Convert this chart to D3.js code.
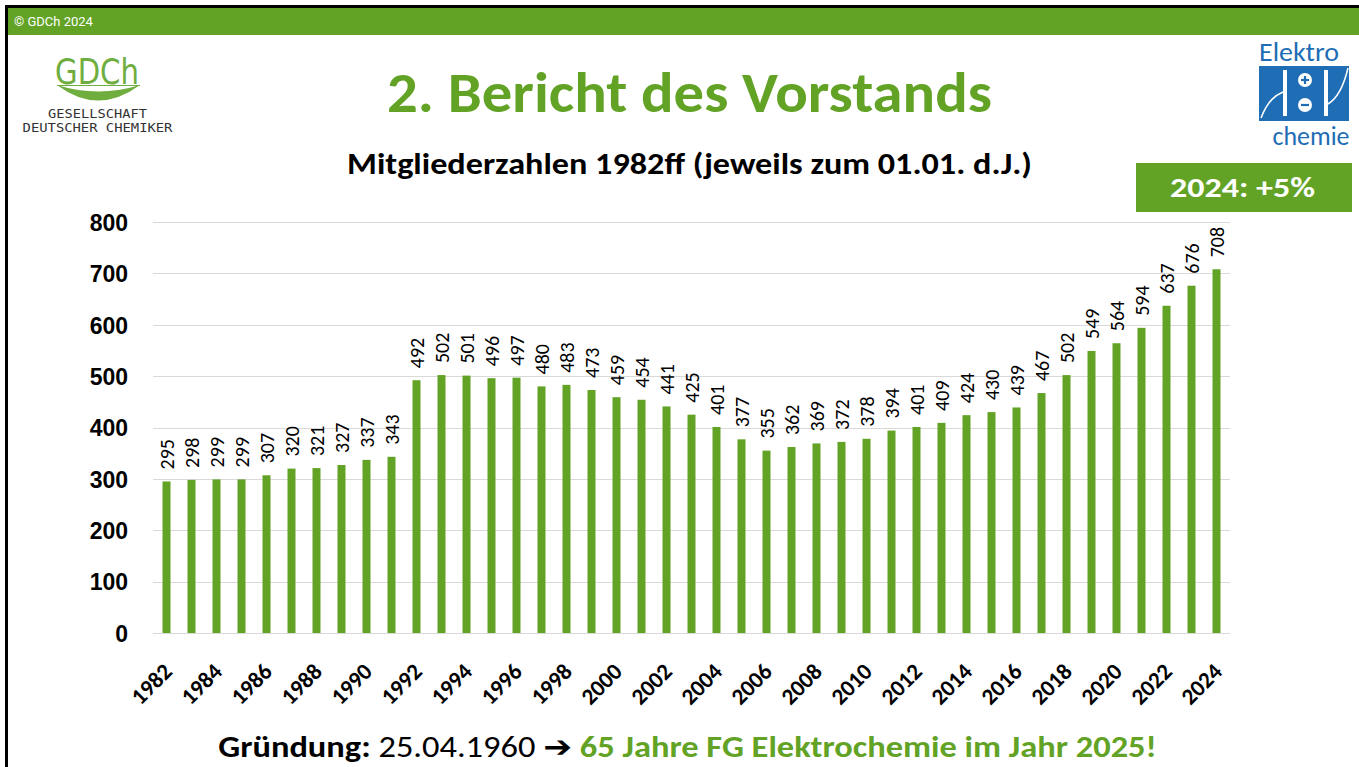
<!DOCTYPE html>
<html><head><meta charset="utf-8">
<script src="https://cdn.jsdelivr.net/npm/d3@7"></script>
<style>html,body{margin:0;padding:0;background:#fff;overflow:hidden}</style>
</head><body>
<svg id="c" width="1359" height="767"></svg>
<script>
// ---- data ----
const years = [1982,1983,1984,1985,1986,1987,1988,1989,1990,1991,1992,1993,1994,1995,1996,1997,1998,1999,2000,2001,2002,2003,2004,2005,2006,2007,2008,2009,2010,2011,2012,2013,2014,2015,2016,2017,2018,2019,2020,2021,2022,2023,2024];
const members = [295,298,299,299,307,320,321,327,337,343,492,502,501,496,497,480,483,473,459,454,441,425,401,377,355,362,369,372,378,394,401,409,424,430,439,467,502,549,564,594,637,676,708];
const yTickValues = [0,100,200,300,400,500,600,700,800];
const xTickYears = [1982,1984,1986,1988,1990,1992,1994,1996,1998,2000,2002,2004,2006,2008,2010,2012,2014,2016,2018,2020,2022,2024];
const titleText = "2. Bericht des Vorstands";
const subtitleText = "Mitgliederzahlen 1982ff (jeweils zum 01.01. d.J.)";
const badgeText = "2024: +5%";
const footerParts = [
  {t:"Gründung:", bold:true, green:false},
  {t:" 25.04.1960 ", bold:false, green:false},
  {t:"➔", bold:true, green:false, arrow:true},
  {t:" 65 Jahre FG Elektrochemie im Jahr 2025!", bold:true, green:true}
];

const GREEN = "#62a326";
const BLUE = "#1f6db4";
const CAL = "Carlito, Calibri, Lato, 'Open Sans', sans-serif";

const svg = d3.select("#c");

function fit(sel, cx, y, width) {
  const w = sel.node().getBBox().width;
  sel.attr("transform", `translate(${cx},${y}) scale(${width / w},1)`);
}

// ---- frame ----
svg.append("rect").attr("x",8).attr("y",8).attr("width",1351).attr("height",27).attr("fill",GREEN);
svg.append("path").attr("d","M6.5,767 V6.5 H1359").attr("fill","none").attr("stroke","#000").attr("stroke-width",3);
svg.append("text").attr("x",14).attr("y",26).attr("fill","#fff")
  .attr("font-family","Roboto, 'Liberation Sans', sans-serif").attr("font-size",13).text("© GDCh 2024");

// ---- GDCh logo ----
const logoG = "#6fae3e";
const gd = svg.append("text").attr("text-anchor","middle").attr("fill",logoG)
  .attr("font-family","'DejaVu Sans', sans-serif").attr("font-size",36).attr("font-weight","normal").text("GDCh");
fit(gd, 97, 84, 84);
svg.append("path").attr("d","M57,85 Q98,116 140,85 Q98,98 57,85 Z").attr("fill",logoG);
svg.append("line").attr("x1",57).attr("x2",140).attr("y1",85.5).attr("y2",85.5).attr("stroke",logoG).attr("stroke-width",1);
const l1 = svg.append("text").attr("text-anchor","middle").attr("fill","#333")
  .attr("font-family","'DejaVu Sans Mono', monospace").attr("font-size",12).text("GESELLSCHAFT");
fit(l1, 97.5, 118, 99);
const l2 = svg.append("text").attr("text-anchor","middle").attr("fill","#333")
  .attr("font-family","'DejaVu Sans Mono', monospace").attr("font-size",12).text("DEUTSCHER CHEMIKER");
fit(l2, 97.5, 132, 151);

// ---- Elektrochemie logo ----
const ek = svg.append("text").attr("text-anchor","middle").attr("fill",BLUE)
  .attr("font-family",CAL).attr("font-size",26).text("Elektro");
fit(ek, 1299, 61, 80);
svg.append("rect").attr("x",1259).attr("y",66).attr("width",90).attr("height",55).attr("fill",BLUE);
svg.append("rect").attr("x",1283).attr("y",70).attr("width",4).attr("height",46).attr("fill","#fff");
svg.append("rect").attr("x",1324).attr("y",70).attr("width",4).attr("height",46).attr("fill","#fff");
svg.append("path").attr("d","M1261,118 C1268,100 1276,95 1283,92").attr("fill","none").attr("stroke","#fff").attr("stroke-width",1.5);
svg.append("path").attr("d","M1328,104 C1338,98 1344,85 1348,68").attr("fill","none").attr("stroke","#fff").attr("stroke-width",1.5);
[[80,"+"],[105,"-"]].forEach(([cy,s]) => {
  svg.append("circle").attr("cx",1305).attr("cy",cy).attr("r",7).attr("fill","#fff");
  svg.append("line").attr("x1",1301).attr("x2",1309).attr("y1",cy).attr("y2",cy).attr("stroke",BLUE).attr("stroke-width",2.2);
  if (s === "+") svg.append("line").attr("x1",1305).attr("x2",1305).attr("y1",cy-4).attr("y2",cy+4).attr("stroke",BLUE).attr("stroke-width",2.2);
});
const ch = svg.append("text").attr("text-anchor","middle").attr("fill",BLUE)
  .attr("font-family",CAL).attr("font-size",26).text("chemie");
fit(ch, 1311, 145, 77);

// ---- titles ----
const title = svg.append("text").attr("text-anchor","middle").attr("fill",GREEN)
  .attr("font-family",CAL).attr("font-weight","bold").attr("font-size",57).text(titleText);
fit(title, 689.5, 112, 605);
const sub = svg.append("text").attr("text-anchor","middle").attr("fill","#000")
  .attr("font-family",CAL).attr("font-weight","bold").attr("font-size",30).text(subtitleText);
fit(sub, 689.5, 174, 685);

// ---- badge ----
svg.append("rect").attr("x",1136).attr("y",163).attr("width",216).attr("height",49).attr("fill",GREEN);
const badge = svg.append("text").attr("text-anchor","middle").attr("fill","#fff")
  .attr("font-family",CAL).attr("font-weight","bold").attr("font-size",29).text(badgeText);
fit(badge, 1242.5, 197, 145);

// ---- chart ----
const x = d3.scaleBand().domain(years).range([154, 1229]).paddingInner(0.68).paddingOuter(0.34);
const y = d3.scaleLinear().domain([0, 800]).range([633, 222]);

const grid = svg.append("g");
grid.selectAll("line").data(yTickValues).join("line")
  .attr("x1",153).attr("x2",1230).attr("y1",d=>Math.round(y(d))+0.5).attr("y2",d=>Math.round(y(d))+0.5)
  .attr("stroke","#d9d9d9").attr("stroke-width",1);

const yAxis = svg.append("g").attr("transform","translate(128,0)")
  .call(d3.axisLeft(y).tickValues(yTickValues).tickSize(0).tickPadding(0));
yAxis.select(".domain").remove();
yAxis.selectAll("text").attr("font-family","'Liberation Sans', Arial, sans-serif")
  .attr("font-weight","bold").attr("font-size",23).attr("fill","#000").attr("dy","0.36em");

svg.append("g").selectAll("rect").data(years).join("rect")
  .attr("x",d=>x(d)).attr("width",x.bandwidth())
  .attr("y",(d,i)=>y(members[i])).attr("height",(d,i)=>y(0)-y(members[i]))
  .attr("fill",GREEN);

svg.append("g").selectAll("text").data(years).join("text")
  .attr("transform",(d,i)=>`translate(${x(d)+x.bandwidth()/2+7.5},${y(members[i])-12}) rotate(-90)`)
  .attr("font-family",CAL).attr("font-size",20).attr("fill","#000")
  .text((d,i)=>members[i]);

const xAxis = svg.append("g").attr("transform","translate(0,633)")
  .call(d3.axisBottom(x).tickValues(xTickYears).tickSize(0).tickPadding(0));
xAxis.select(".domain").remove();
xAxis.selectAll("text")
  .attr("font-family",CAL).attr("font-weight","bold").attr("font-size",23).attr("fill","#000")
  .attr("text-anchor","end").attr("y",0).attr("dy",0)
  .attr("transform","translate(7,40) rotate(-45)");

// ---- footer ----
const foot = svg.append("text").attr("text-anchor","middle").attr("font-family",CAL).attr("font-size",30);
footerParts.forEach(p => {
  foot.append("tspan").text(p.t)
    .attr("font-weight", p.bold ? "bold" : "normal")
    .attr("fill", p.green ? GREEN : "#000")
    .attr("font-family", p.arrow ? "'DejaVu Sans', sans-serif" : CAL);
});
fit(foot, 687.5, 757, 939);
</script>
</body></html>
